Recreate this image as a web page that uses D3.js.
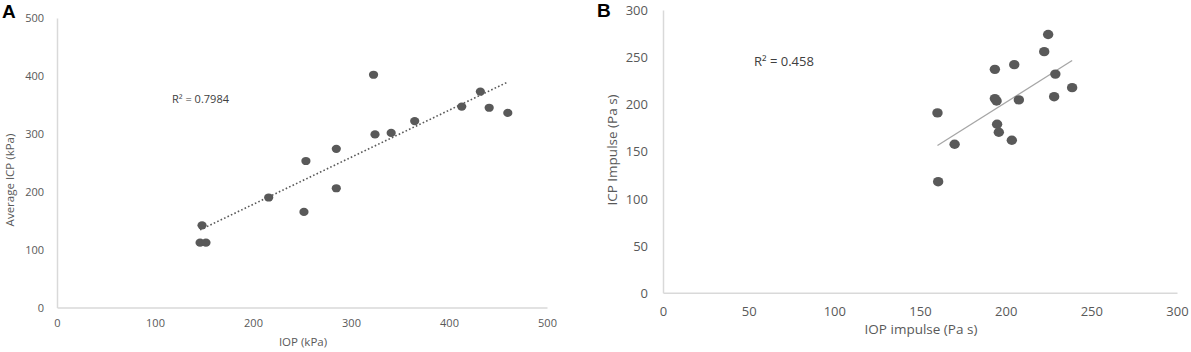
<!DOCTYPE html>
<head>
    <meta charset="utf-8">
    <script src="https://d3js.org/d3.v7.min.js"></script>
    <style>
        body { margin: 0; background: #fff; }
        text { font-family: "Open Sans", sans-serif; }
    </style>
</head>

<div id="chart"></div>

<script>
// Panel A: average ICP vs IOP (kPa)
var aIop = [148, 146, 152, 216, 254, 252, 285, 285, 323, 324.5, 341, 365, 413, 432, 441, 460];
var aIcp = [142, 112, 112, 190, 253, 165, 274, 206, 402, 299, 301.5, 322, 347, 373, 345, 336];
var aTicks = [0, 100, 200, 300, 400, 500];
var aR2 = "R² = 0.7984";

// Panel B: ICP impulse vs IOP impulse (Pa s)
var bIop = [224.8, 222.5, 205, 193.7, 229, 238.8, 228.3, 193.7, 194.7, 207.7, 160.2, 195, 196, 203.6, 170.2, 160.6];
var bIcp = [274, 255.8, 242, 237, 232, 217.6, 208, 206, 203.5, 204.6, 190.8, 178.8, 170.3, 161.8, 157.5, 117.8];
var bTicks = [0, 50, 100, 150, 200, 250, 300];
var bR2 = "R² = 0.458";

var width = 1191, height = 352;
var grey = "#595959";

var svg = d3.select("#chart")
    .append("svg")
    .attr("width", width)
    .attr("height", height);

// least squares fit, drawn from min x to max x like the Excel trendline
function fit(xs, ys) {
    var mx = d3.mean(xs), my = d3.mean(ys);
    var sxy = d3.sum(xs, function(d, i) { return (d - mx) * (ys[i] - my) });
    var sxx = d3.sum(xs, function(d) { return (d - mx) * (d - mx) });
    var b = sxy / sxx, a = my - b * mx;
    var x0 = d3.min(xs), x1 = d3.max(xs);
    return [[x0, a + b * x0], [x1, a + b * x1]];
}

function panel(p) {
    var g = svg.append("g");

    var x = d3.scaleLinear().domain(p.domain).range(p.xRange);
    var y = d3.scaleLinear().domain(p.domain).range(p.yRange);

    var xAxis = g.append("g")
        .attr("transform", "translate(0," + p.yRange[0] + ")")
        .call(d3.axisBottom(x).tickValues(p.ticks).tickSize(0).tickSizeOuter(0));
    xAxis.selectAll("text")
        .attr("y", p.xLabelOff).attr("dy", "0.35em")
        .style("font-size", p.tickFont + "px")
        .style("font-family", "Open Sans")
        .attr("fill", grey);

    var yAxis = g.append("g")
        .attr("transform", "translate(" + p.xRange[0] + ",0)")
        .call(d3.axisLeft(y).tickValues(p.ticks).tickSize(0).tickSizeOuter(0));
    yAxis.selectAll("text")
        .attr("x", -p.yLabelOff).attr("dy", "0.35em")
        .style("font-size", p.tickFont + "px")
        .style("font-family", "Open Sans")
        .attr("fill", grey);

    g.selectAll(".domain")
        .attr("stroke", "#d9d9d9")
        .attr("stroke-width", 1.5);

    // trendline
    var line = fit(p.xs, p.ys);
    g.append("line")
        .attr("x1", x(line[0][0])).attr("y1", y(line[0][1]))
        .attr("x2", x(line[1][0])).attr("y2", y(line[1][1]))
        .attr("stroke", p.trendColor)
        .attr("stroke-width", p.trendWidth)
        .attr("stroke-dasharray", p.dash);

    // points
    g.selectAll("pts")
        .data(p.xs)
        .enter()
        .append("ellipse")
        .attr("cx", function(d) { return x(d) })
        .attr("cy", function(d, i) { return y(p.ys[i]) })
        .attr("rx", p.rx)
        .attr("ry", p.ry)
        .attr("fill", grey);

    // R² annotation
    g.append("text")
        .attr("x", p.r2Pos[0]).attr("y", p.r2Pos[1])
        .attr("dy", "0.35em")
        .style("font-size", p.tickFont + "px")
        .attr("fill", "#404040")
        .text(p.r2);

    // axis titles
    g.append("text")
        .attr("x", p.xTitlePos[0]).attr("y", p.xTitlePos[1])
        .attr("dy", "0.35em")
        .attr("text-anchor", "middle")
        .style("font-size", p.titleFont + "px")
        .attr("fill", grey)
        .text(p.xTitle);

    g.append("text")
        .attr("transform", "translate(" + p.yTitlePos[0] + "," + p.yTitlePos[1] + ") rotate(-90)")
        .attr("dy", "0.35em")
        .attr("text-anchor", "middle")
        .style("font-size", p.titleFont + "px")
        .attr("fill", grey)
        .text(p.yTitle);

    // panel letter
    g.append("text")
        .attr("x", p.letterPos[0]).attr("y", p.letterPos[1])
        .style("font-size", "19px")
        .style("font-weight", "bold")
        .style("font-family", "Liberation Sans, Arial, sans-serif")
        .attr("fill", "#000")
        .text(p.letter);
}

panel({
    xs: aIop, ys: aIcp, ticks: aTicks, domain: [0, 500],
    xRange: [57, 547], yRange: [307.5, 18],
    tickFont: 11, titleFont: 11.5, xLabelOff: 15.5, yLabelOff: 13,
    trendColor: grey, trendWidth: 1.6, dash: "1.6,2.2",
    rx: 4.6, ry: 4.1,
    r2: aR2, r2Pos: [172, 99],
    xTitle: "IOP (kPa)", xTitlePos: [303, 342],
    yTitle: "Average ICP (kPa)", yTitlePos: [10, 180],
    letter: "A", letterPos: [2, 18]
});

panel({
    xs: bIop, ys: bIcp, ticks: bTicks, domain: [0, 300],
    xRange: [663, 1177], yRange: [292.7, 10],
    tickFont: 13, titleFont: 13.5, xLabelOff: 19, yLabelOff: 15,
    trendColor: "#a6a6a6", trendWidth: 1.3, dash: null,
    rx: 5.2, ry: 4.7,
    r2: bR2, r2Pos: [754, 61],
    xTitle: "IOP impulse (Pa s)", xTitlePos: [921, 329],
    yTitle: "ICP Impulse (Pa s)", yTitlePos: [612, 150],
    letter: "B", letterPos: [597, 17]
});
</script>
